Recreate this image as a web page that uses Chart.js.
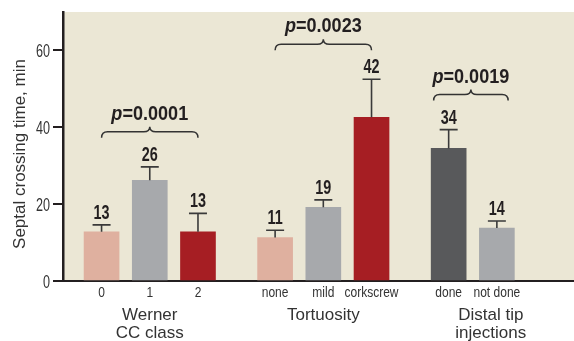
<!DOCTYPE html>
<html>
<head>
<meta charset="utf-8">
<script src="https://cdn.jsdelivr.net/npm/chart.js@4.4.1/dist/chart.umd.min.js"></script>
<style>
  body { margin: 0; background: #fff; }
  #wrap { width: 574px; height: 341px; position: relative; }
</style>
</head>
<body>
<div id="wrap"><canvas id="septalChart"></canvas></div>
<script>
// data
const categories = ["0", "1", "2", "none", "mild", "corkscrew", "done", "not done"];
const groupOf = [0, 0, 0, 1, 1, 1, 2, 2];
const groupTitles = [["Werner", "CC class"], ["Tortuosity"], ["Distal tip", "injections"]];
const means = [12.8, 26.2, 12.8, 11.3, 19.2, 42.6, 34.5, 13.8];
const errors = [1.8, 3.5, 4.8, 1.9, 1.9, 9.9, 4.9, 1.8];
const valueLabels = ["13", "26", "13", "11", "19", "42", "34", "14"];
const pValues = ["0.0001", "0.0023", "0.0019"];
const yTicks = [0, 20, 40, 60];

const barColors = ["#DFB09F", "#A7A9AC", "#A61E23", "#DFB09F", "#A7A9AC", "#A61E23", "#58595B", "#A7A9AC"];
const SANS = "'Liberation Sans', Arial, sans-serif";
const INK = "#231F20";

//layout: bars sit one unit apart, groups are spaced a bit wider
const GROUP_STEP = 3.6;
const positions = categories.map((c, i) => {
    const g = groupOf[i];
    const within = groupOf.slice(0, i).filter(x => x === g).length;
    return g * GROUP_STEP + within;
});
const bracePad = [0, 0, 15];
const titleNudge = [0, 0, 18];

// no condensed face installed, so squeeze Liberation Sans horizontally
function narrowText(ctx, text, x, y, font, squeeze, align, baseline) {
    ctx.save();
    ctx.translate(x, y);
    ctx.scale(squeeze, 1);
    ctx.font = font;
    ctx.textAlign = align || "center";
    ctx.textBaseline = baseline || "alphabetic";
    ctx.fillText(text, 0, 0);
    ctx.restore();
}

const decorations = {
    id: "decorations",
    beforeDraw(chart) {
        const {ctx, chartArea: a} = chart;
        ctx.save();
        ctx.fillStyle = "#EBE7D5";
        ctx.fillRect(a.left, a.top, a.right - a.left, a.bottom - a.top);
        ctx.restore();
    },
    afterDatasetsDraw(chart) {
        const ctx = chart.ctx;
        const y = chart.scales.y;
        const x = chart.scales.x;
        const bars = chart.getDatasetMeta(0).data;
        ctx.save();

        //tick labels
        ctx.fillStyle = "#333";
        y.ticks.forEach(t => {
            narrowText(ctx, String(t.value), y.right - 13, y.getPixelForValue(t.value) + 6.5, "18px " + SANS, 0.7, "right");
        });
        x.ticks.forEach((t, i) => {
            narrowText(ctx, categories[i], x.getPixelForValue(t.value), 297, "15px " + SANS, 0.8, "center");
        });

        //error whiskers + value labels
        const whiskerTop = [];
        bars.forEach((bar, i) => {
            const wy = y.getPixelForValue(means[i] + errors[i]);
            whiskerTop.push(wy);
            ctx.strokeStyle = "#3A3A3A";
            ctx.lineWidth = 1.6;
            ctx.beginPath();
            ctx.moveTo(bar.x, bar.y);
            ctx.lineTo(bar.x, wy);
            ctx.moveTo(bar.x - 9, wy);
            ctx.lineTo(bar.x + 9, wy);
            ctx.stroke();

            ctx.fillStyle = INK;
            narrowText(ctx, valueLabels[i], bar.x, wy - 6, "bold 20px " + SANS, 0.72, "center");
        });

        //braces with p values
        groupTitles.forEach((t, g) => {
            const idx = categories.map((c, i) => i).filter(i => groupOf[i] === g);
            const xs = idx.map(i => bars[i].x);
            const xL = Math.min(...xs) - bracePad[g];
            const xR = Math.max(...xs) + bracePad[g] * 0.75;
            const xc = (xL + xR) / 2;
            const yb = Math.min(...idx.map(i => whiskerTop[i])) - 29;
            const ym = yb - 6, yt = yb - 11, r = 6;

            ctx.strokeStyle = "#333";
            ctx.lineWidth = 1.5;
            ctx.beginPath();
            ctx.moveTo(xL, yb);
            ctx.quadraticCurveTo(xL, ym, xL + r, ym);
            ctx.lineTo(xc - r, ym);
            ctx.quadraticCurveTo(xc, ym, xc, yt);
            ctx.quadraticCurveTo(xc, ym, xc + r, ym);
            ctx.lineTo(xR - r, ym);
            ctx.quadraticCurveTo(xR, ym, xR, yb);
            ctx.stroke();

            const sq = 0.86;
            const pFont = "italic bold 21px " + SANS;
            const restFont = "bold 21px " + SANS;
            const rest = "=" + pValues[g];
            ctx.font = pFont;
            const wp = ctx.measureText("p").width * sq;
            ctx.font = restFont;
            const wr = ctx.measureText(rest).width * sq;
            const x0 = xc - (wp + wr) / 2;
            ctx.fillStyle = INK;
            narrowText(ctx, "p", x0, yt - 7, pFont, sq, "left");
            narrowText(ctx, rest, x0 + wp, yt - 7, restFont, sq, "left");

            //group title under the axis
            ctx.font = "17px " + SANS;
            ctx.textAlign = "center";
            ctx.textBaseline = "alphabetic";
            ctx.fillStyle = "#333";
            const cx = xs.reduce((s, v) => s + v, 0) / xs.length + titleNudge[g];
            t.forEach((line, k) => ctx.fillText(line, cx, 320 + k * 18));
        });

        //y axis title
        ctx.translate(20.5, 154);
        ctx.rotate(-Math.PI / 2);
        ctx.font = "17px " + SANS;
        ctx.textAlign = "center";
        ctx.textBaseline = "middle";
        ctx.fillStyle = "#333";
        ctx.fillText("Septal crossing time, min", 0, 0);
        ctx.restore();
    }
};

new Chart(document.getElementById("septalChart"), {
    type: "bar",
    data: {
        datasets: [{
            data: positions.map((p, i) => ({x: p, y: means[i]})),
            backgroundColor: barColors,
            barThickness: 35
        }]
    },
    options: {
        responsive: true,
        maintainAspectRatio: false,
        animation: false,
        layout: {padding: {top: 12, left: 0, right: 0, bottom: 0}},
        plugins: {legend: {display: false}, tooltip: {enabled: false}},
        scales: {
            x: {
                type: "linear",
                offset: false,
                min: -0.8,
                max: 9.8,
                afterBuildTicks: scale => { scale.ticks = positions.map(v => ({value: v})); },
                afterFit: scale => { scale.height = 60; },
                grid: {display: false},
                border: {display: true, color: INK, width: 2},
                ticks: {display: false}
            },
            y: {
                min: 0,
                max: 70,
                afterBuildTicks: scale => { scale.ticks = yTicks.map(v => ({value: v})); },
                afterFit: scale => { scale.width = 63; },
                grid: {drawOnChartArea: false, drawTicks: true, tickLength: 10, tickColor: INK, lineWidth: 2},
                border: {display: true, color: INK, width: 2.5},
                ticks: {display: false}
            }
        }
    },
    plugins: [decorations]
});
</script>
</body>
</html>
